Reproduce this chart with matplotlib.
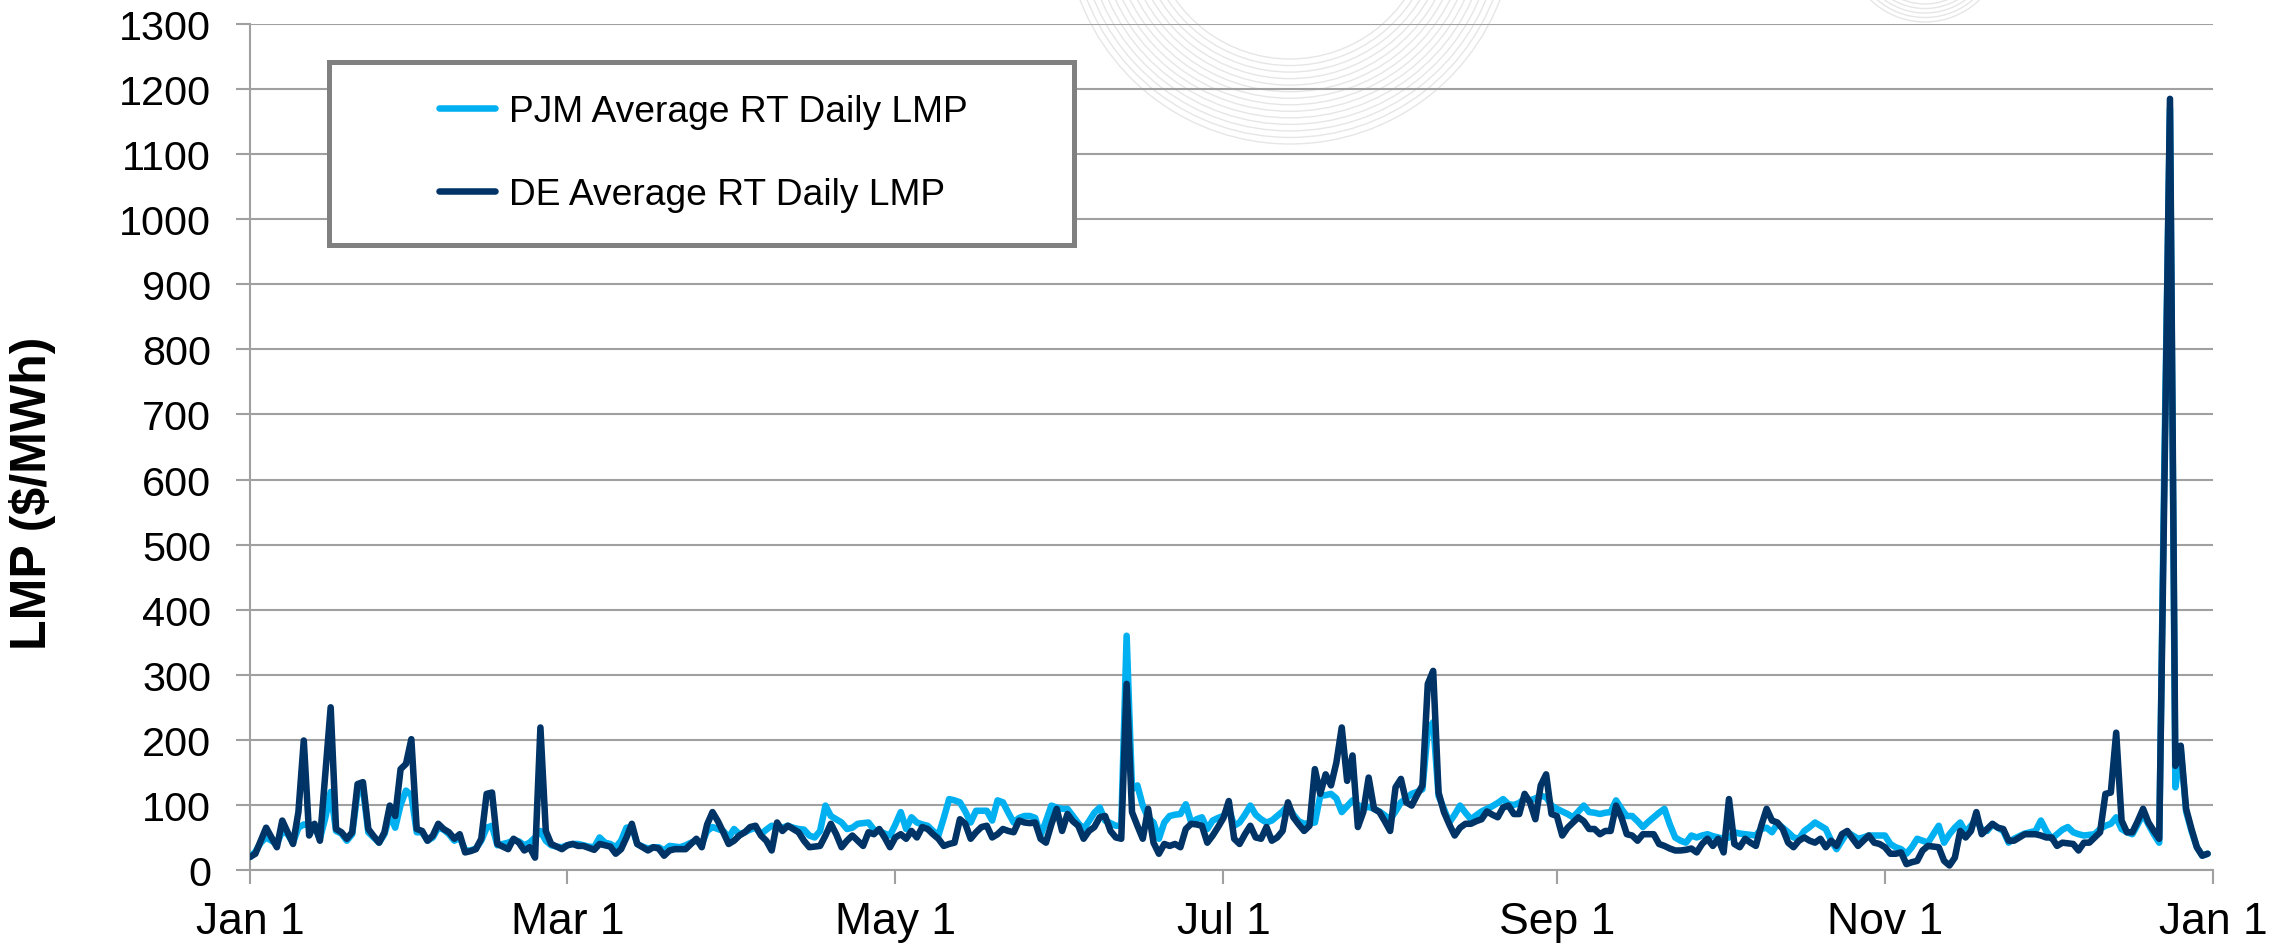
import numpy as np
import pandas as pd
import matplotlib
matplotlib.use('Agg')
import matplotlib.pyplot as plt
from matplotlib.patches import Rectangle, Arc

plt.rcParams['font.family'] = ['Liberation Sans', 'DejaVu Sans']

de_jan = [20, 25, 45, 65, 50, 35, 76, 58, 40, 89, 199, 53, 71, 45, 148, 250, 63, 58, 48, 58, 132, 135, 63, 52, 42, 58, 99, 83, 155, 163, 201]
de_feb = [63, 60, 45, 53, 71, 63, 58, 48, 55, 27, 29, 32, 48, 117, 119, 40, 36, 32, 48, 42, 30, 35, 19, 219, 60, 40, 36, 32]
de_mar = [38, 40, 37, 37, 34, 31, 40, 38, 36, 25, 32, 50, 71, 40, 35, 30, 35, 33, 22, 30, 32, 32, 32, 40, 48, 35, 70, 89, 75, 58, 40]
de_apr = [45, 53, 58, 66, 68, 53, 45, 30, 73, 60, 68, 63, 58, 45, 35, 36, 37, 53, 71, 55, 35, 45, 53, 45, 37, 58, 55, 63, 50, 35]
de_may = [50, 55, 48, 60, 50, 66, 63, 55, 48, 37, 40, 42, 78, 71, 48, 58, 66, 68, 50, 55, 63, 60, 58, 76, 73, 72, 73, 48, 42, 70, 94]
de_jun = [60, 86, 75, 68, 48, 60, 66, 81, 83, 60, 50, 48, 286, 89, 68, 48, 94, 42, 25, 40, 37, 40, 35, 63, 71, 70, 68, 42, 53, 66]
de_jul = [80, 106, 48, 40, 55, 68, 50, 48, 66, 45, 50, 60, 104, 81, 70, 60, 68, 155, 117, 147, 130, 165, 219, 137, 176, 66, 89, 142, 94, 89, 75]
de_aug = [60, 127, 140, 104, 99, 115, 130, 286, 306, 119, 89, 70, 53, 65, 71, 71, 75, 78, 90, 85, 81, 96, 99, 86, 86, 117, 104, 78, 130, 147, 86]
de_sep = [83, 53, 65, 73, 81, 75, 63, 63, 55, 60, 60, 99, 81, 55, 53, 45, 55, 55, 55, 40, 37, 33, 30, 30, 31, 33, 27, 40, 48, 37]
de_oct = [48, 27, 109, 40, 35, 48, 42, 37, 68, 94, 76, 73, 63, 42, 35, 45, 50, 45, 42, 48, 35, 45, 37, 55, 60, 48, 37, 45, 53, 42, 40]
de_nov = [35, 25, 25, 27, 9, 12, 14, 30, 37, 36, 35, 14, 7, 19, 60, 50, 60, 89, 55, 63, 71, 65, 63, 45, 45, 50, 55, 55, 55, 53]
de_dec = [50, 50, 37, 42, 41, 40, 30, 42, 42, 50, 58, 117, 119, 211, 76, 58, 58, 75, 94, 73, 60, 48, 610, 1185, 160, 191, 94, 63, 35, 22, 25]

pjm_jan = [20, 28, 42, 50, 45, 40, 60, 55, 42, 65, 70, 68, 66, 48, 80, 120, 60, 56, 45, 55, 120, 125, 58, 50, 42, 55, 85, 65, 100, 122, 115]
pjm_feb = [58, 58, 45, 50, 65, 62, 55, 45, 50, 30, 30, 33, 45, 65, 68, 38, 40, 42, 46, 44, 38, 42, 50, 60, 45, 38, 36, 35]
pjm_mar = [38, 40, 40, 38, 36, 35, 50, 42, 40, 35, 45, 65, 66, 40, 36, 33, 35, 35, 30, 37, 36, 35, 38, 42, 45, 40, 60, 66, 63, 60, 50]
pjm_apr = [63, 55, 58, 62, 65, 55, 62, 68, 66, 65, 68, 65, 63, 62, 53, 50, 60, 99, 83, 78, 73, 63, 65, 71, 72, 73, 62, 60, 56, 53]
pjm_may = [70, 89, 63, 81, 73, 70, 68, 60, 53, 80, 109, 107, 104, 90, 73, 91, 91, 91, 76, 107, 104, 88, 73, 80, 83, 83, 80, 53, 75, 99, 96]
pjm_jun = [94, 94, 83, 72, 63, 75, 88, 96, 76, 72, 68, 68, 360, 124, 130, 99, 80, 73, 48, 73, 83, 85, 86, 101, 73, 78, 81, 63, 76, 80]
pjm_jul = [83, 94, 68, 73, 85, 99, 85, 78, 73, 76, 83, 90, 99, 85, 75, 71, 72, 73, 114, 115, 117, 110, 89, 98, 107, 100, 95, 97, 94, 90, 84]
pjm_aug = [78, 90, 104, 110, 117, 120, 124, 215, 227, 114, 94, 73, 85, 99, 88, 78, 84, 90, 94, 98, 103, 109, 101, 100, 103, 110, 107, 110, 114, 112, 99]
pjm_sep = [94, 90, 86, 81, 90, 99, 89, 88, 86, 88, 89, 107, 94, 83, 83, 75, 66, 74, 81, 88, 94, 70, 50, 45, 42, 53, 50, 53, 55, 52]
pjm_oct = [50, 48, 50, 58, 56, 55, 54, 53, 63, 65, 58, 71, 65, 58, 50, 48, 60, 66, 73, 68, 63, 45, 32, 45, 58, 53, 48, 50, 53, 53, 53]
pjm_nov = [53, 40, 35, 32, 25, 35, 48, 45, 42, 55, 68, 42, 55, 65, 73, 58, 68, 78, 62, 60, 70, 65, 60, 42, 48, 52, 56, 58, 60, 76]
pjm_dec = [60, 48, 55, 62, 66, 58, 55, 53, 54, 55, 63, 68, 71, 81, 63, 58, 55, 70, 86, 70, 55, 42, 650, 1170, 127, 185, 90, 60, 35, 22, 25]

de = de_jan + de_feb + de_mar + de_apr + de_may + de_jun + de_jul + de_aug + de_sep + de_oct + de_nov + de_dec
pjm = pjm_jan + pjm_feb + pjm_mar + pjm_apr + pjm_may + pjm_jun + pjm_jul + pjm_aug + pjm_sep + pjm_oct + pjm_nov + pjm_dec
dates = pd.date_range('2022-01-01', periods=len(de), freq='D')

tick_dates = pd.to_datetime(['2022-01-01', '2022-03-01', '2022-05-01', '2022-07-01',
                             '2022-09-01', '2022-11-01', '2023-01-01'])
tick_labels = ['Jan 1', 'Mar 1', 'May 1', 'Jul 1', 'Sep 1', 'Nov 1', 'Jan 1']
series_names = ['PJM Average RT Daily LMP', 'DE Average RT Daily LMP']

W, H = 2286, 953
light = '#00b0f0'
dark = '#003366'
gridc = '#a0a0a0'

fig = plt.figure(figsize=(W / 100, H / 100), dpi=100)

# faint watermark arcs behind the plot
bg = fig.add_axes([0, 0, 1, 1], zorder=-1)
bg.set_xlim(0, W)
bg.set_ylim(H, 0)
bg.axis('off')
for r in np.linspace(140, 225, 14):
    bg.add_patch(Arc((1290, -80), 2 * r, 2 * r, theta1=15, theta2=165, color='#e6e6e6', lw=1))
for r in np.linspace(60, 78, 5):
    bg.add_patch(Arc((1925, -55), 2 * r, 2 * r, theta1=20, theta2=160, color='#e6e6e6', lw=1))

ax = fig.add_axes([250 / W, 1 - 871 / H, (2213 - 250) / W, (871 - 25) / H])
ax.patch.set_alpha(0)

ax.plot(dates, pjm, color=light, lw=4.7, solid_joinstyle='round', solid_capstyle='round',
        label=series_names[0], zorder=3)
ax.plot(dates, de, color=dark, lw=4.7, solid_joinstyle='round', solid_capstyle='round',
        label=series_names[1], zorder=3)

ax.set_ylim(0, 1300)
ax.set_yticks(range(0, 1301, 100))
ax.set_xlim(tick_dates[0], tick_dates[-1])
ax.set_xticks(tick_dates)
ax.set_xticklabels(tick_labels)

ax.grid(axis='y', color=gridc, lw=1.5)
ax.set_axisbelow(True)
for s in ['top', 'right']:
    ax.spines[s].set_visible(False)
for s in ['left', 'bottom']:
    ax.spines[s].set_color(gridc)
    ax.spines[s].set_linewidth(1.5)
ax.tick_params(axis='y', length=10, width=1.5, color=gridc, pad=18, labelsize=29.8)
ax.tick_params(axis='x', length=10, width=1.5, color=gridc, pad=12, labelsize=32)

fig.text(33 / W, 1 - 493 / H, 'LMP ($/MWh)', rotation=90, ha='center', va='center',
         fontsize=36, fontweight='bold')

# legend box drawn by hand (wide side padding)
box = Rectangle((329 / W, 1 - 246 / H), (1074 - 329) / W, (246 - 63) / H,
                transform=fig.transFigure, facecolor='white', edgecolor='#808080',
                lw=3.6, zorder=4, clip_on=False)
ax.add_artist(box)
leg = ax.legend(loc='center left', bbox_to_anchor=(439 / W, 1 - 154 / H),
                bbox_transform=fig.transFigure, frameon=False, fontsize=26.7,
                handlelength=1.51, handletextpad=0.38, labelspacing=1.3,
                borderpad=0, borderaxespad=0)
leg.set_zorder(5)

fig.savefig('out.png', dpi=100)
